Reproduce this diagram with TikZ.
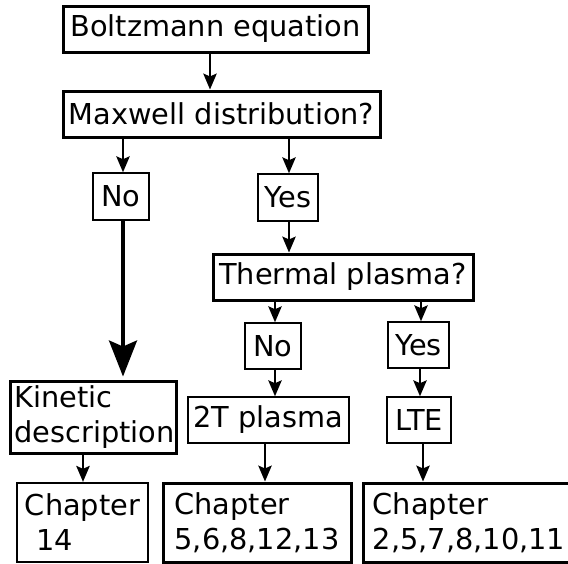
\documentclass[tikz,border=0pt]{standalone}
\usepackage{fontspec}
\setmainfont{DejaVu Sans}
\usetikzlibrary{arrows.meta}
\begin{document}
\begin{tikzpicture}[x=1pt,y=-1pt,
  box/.style={draw, line width=1.5pt, inner sep=0pt, font=\fontsize{28.8}{35}\selectfont, align=left},
  thickbox/.style={box, line width=3pt},
  midbox/.style={box, line width=2.3pt},
  arr/.style={line width=1.5pt, -{Stealth[length=16pt,width=13.5pt,inset=3pt]}},
  bigarr/.style={line width=3.4pt, -{Stealth[length=36pt,width=28pt,inset=6pt]}}]
\useasboundingbox (0,0) rectangle (568,563);
\clip (0,0) rectangle (568,563);
\node[thickbox, minimum width=305pt, minimum height=46pt] (boltz) at (215.5,29) {Boltzmann equation};
\node[thickbox, minimum width=317pt, minimum height=46pt] (maxw) at (221.5,114) {Maxwell distribution?};
\node[box, minimum width=56pt, minimum height=47pt] (no1) at (121,196.5) {No};
\node[box, minimum width=60pt, minimum height=47pt] (yes1) at (288,197.5) {Yes};
\node[thickbox, minimum width=260pt, minimum height=46pt] (therm) at (343,277) {Thermal plasma?};
\node[box, minimum width=56pt, minimum height=46pt] (no2) at (273,346) {No};
\node[box, minimum width=61pt, minimum height=46pt] (yes2) at (418.5,345) {Yes};
\node[thickbox, minimum width=166pt, minimum height=72pt] (kin) at (93,417) {\hspace{3pt}Kinetic\\\hspace{3pt}description};
\node[box, minimum width=161pt, minimum height=46pt] (twoT) at (268.5,420) {2T plasma};
\node[box, minimum width=64pt, minimum height=46pt] (lte) at (419,420) {LTE};
\node[midbox, minimum width=131pt, minimum height=79pt] (ch14) at (82.5,522.5) {Chapter\\\hspace{0.4em}14};
\node[thickbox, minimum width=188pt, minimum height=79pt] (ch5) at (257,522.5) {Chapter\\5,6,8,12,13};
\node[thickbox, minimum width=212pt, minimum height=79pt] (ch2) at (469,522.5) {Chapter\\2,5,7,8,10,11};
\draw[arr] ([xshift=-5.5pt]boltz.south) -- ([xshift=-11.5pt]maxw.north);
\draw[arr] ([xshift=-98.5pt]maxw.south) -- ([xshift=2pt]no1.north);
\draw[arr] ([xshift=67.5pt]maxw.south) -- ([xshift=1pt]yes1.north);
\draw[bigarr] ([xshift=2pt]no1.south) -- ([xshift=30pt,yshift=3pt]kin.north);
\draw[arr] ([xshift=1pt]yes1.south) -- ([xshift=-54pt]therm.north);
\draw[arr] ([xshift=-68pt]therm.south) -- ([xshift=2pt]no2.north);
\draw[arr] ([xshift=78pt]therm.south) -- ([xshift=2.5pt]yes2.north);
\draw[arr] ([xshift=2pt]no2.south) -- ([xshift=6.5pt]twoT.north);
\draw[arr] ([xshift=1.5pt]yes2.south) -- ([xshift=1pt]lte.north);
\draw[arr] ([xshift=-10pt]kin.south) -- ([xshift=0.5pt]ch14.north);
\draw[arr] ([xshift=-3.5pt]twoT.south) -- ([xshift=8pt]ch5.north);
\draw[arr] ([xshift=4pt]lte.south) -- ([xshift=-46pt]ch2.north);
\end{tikzpicture}
\end{document}
